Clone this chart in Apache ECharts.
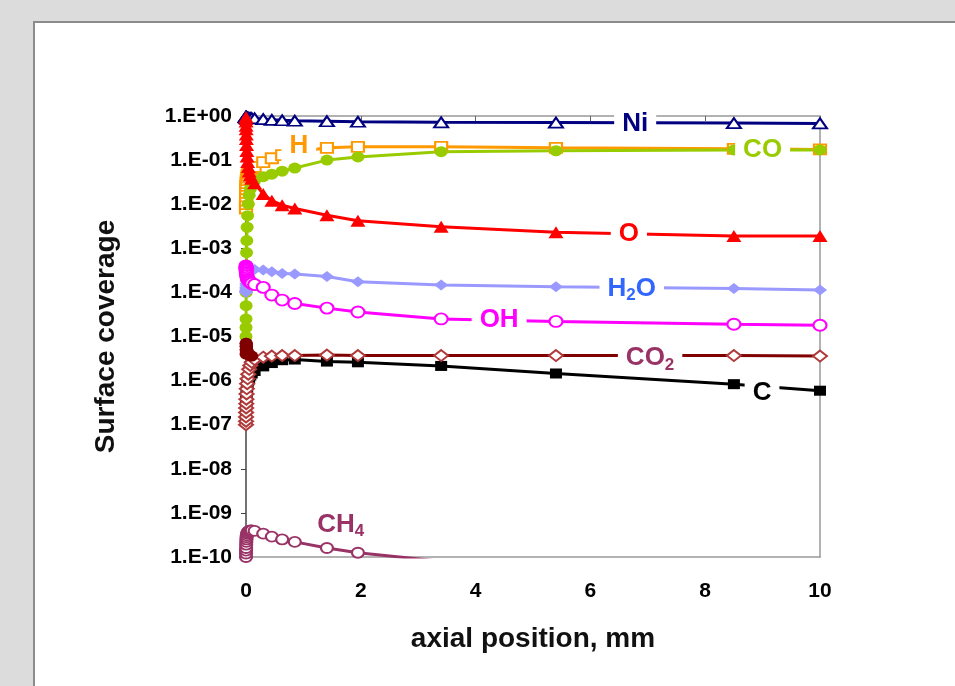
<!DOCTYPE html>
<html>
<head>
<meta charset="utf-8">
<script src="https://cdn.jsdelivr.net/npm/echarts@6/dist/echarts.min.js"></script>
<style>
  html, body { margin: 0; padding: 0; background: #dcdcdc; }
  #panel { position: absolute; left: 33px; top: 21px; width: 1000px; height: 1000px;
           background: #fff; border: 2px solid #8c8c8c; }
  #chart { position: absolute; left: 0; top: 0; width: 955px; height: 686px; }
</style>
</head>
<body>
<div id="panel"></div>
<div id="chart"></div>
<script>
// axial positions (mm), dense near the inlet
var xPos = [0, 0.0005, 0.001, 0.002, 0.003, 0.005, 0.007, 0.01, 0.014, 0.02, 0.028, 0.04, 0.055, 0.075, 0.1,
            0.15, 0.3, 0.45, 0.63, 0.85, 1.41, 1.95, 3.4, 5.4, 8.5, 10];

var ni  = [0.97, 0.96, 0.95, 0.95, 0.94, 0.94, 0.93, 0.93, 0.92, 0.92, 0.91, 0.91, 0.9, 0.9, 0.89,
           0.88, 0.85, 0.82, 0.8, 0.78, 0.76, 0.74, 0.72, 0.71, 0.69, 0.68];
var h   = [0.008, 0.01, 0.012, 0.015, 0.018, 0.022, 0.026, 0.03, 0.035, 0.04, 0.045, 0.05, 0.055, 0.06, 0.065,
           0.07, 0.09, 0.11, 0.13, 0.15, 0.19, 0.2, 0.2, 0.19, 0.18, 0.175];
var co  = [1e-5, 1.6e-5, 2.5e-5, 5e-5, 1e-4, 2e-4, 4e-4, 8e-4, 1.5e-3, 3e-3, 5.5e-3, 1e-2, 1.6e-2, 2.2e-2, 2.8e-2,
           3.4e-2, 4.2e-2, 4.8e-2, 5.6e-2, 6.6e-2, 0.1, 0.118, 0.155, 0.163, 0.17, 0.17];
var o   = [0.95, 0.85, 0.75, 0.6, 0.5, 0.38, 0.3, 0.22, 0.16, 0.12, 0.09, 0.07, 0.055, 0.045, 0.038,
           0.03, 0.017, 0.012, 0.0095, 0.008, 0.0056, 0.0042, 0.0031, 0.0023, 0.0019, 0.0019];
var h2o = [1e-4, 1.05e-4, 1.1e-4, 1.2e-4, 1.3e-4, 1.45e-4, 1.6e-4, 1.8e-4, 2e-4, 2.3e-4, 2.6e-4, 2.9e-4, 3.1e-4, 3.3e-4, 3.4e-4,
           3.3e-4, 3.2e-4, 2.95e-4, 2.7e-4, 2.6e-4, 2.3e-4, 1.75e-4, 1.48e-4, 1.35e-4, 1.23e-4, 1.13e-4];
var oh  = [4e-4, 3.8e-4, 3.6e-4, 3.4e-4, 3.2e-4, 3e-4, 2.8e-4, 2.6e-4, 2.4e-4, 2.2e-4, 2e-4, 1.9e-4, 1.8e-4, 1.7e-4, 1.6e-4,
           1.5e-4, 1.3e-4, 8.7e-5, 6.7e-5, 5.6e-5, 4.4e-5, 3.6e-5, 2.5e-5, 2.2e-5, 1.9e-5, 1.8e-5];
var co2 = [1e-7, 1.2e-7, 1.5e-7, 1.9e-7, 2.4e-7, 3e-7, 3.8e-7, 5e-7, 6.5e-7, 8.5e-7, 1.1e-6, 1.4e-6, 1.8e-6, 2.2e-6, 2.6e-6,
           3e-6, 3.4e-6, 3.6e-6, 3.7e-6, 3.7e-6, 3.8e-6, 3.7e-6, 3.7e-6, 3.7e-6, 3.7e-6, 3.6e-6];
var cooh = [4e-6, 5e-6, 6e-6, 7e-6, 7e-6, 6.5e-6, 6e-6, 5.5e-6, 5e-6, 4.6e-6, 4.3e-6, 4e-6, 3.8e-6, 3.7e-6, 3.6e-6,
           null, null, null, null, null, null, null, null, null, null, null];
var c   = [1.5e-7, 1.7e-7, 2e-7, 2.4e-7, 2.8e-7, 3.3e-7, 4e-7, 4.8e-7, 5.8e-7, 7e-7, 8.5e-7, 1e-6, 1.15e-6, 1.3e-6, 1.45e-6,
           1.65e-6, 2.1e-6, 2.5e-6, 2.9e-6, 3e-6, 2.7e-6, 2.6e-6, 2.15e-6, 1.45e-6, 8.3e-7, 5.9e-7];
var ch4 = [1e-10, 1.2e-10, 1.4e-10, 1.6e-10, 1.9e-10, 2.2e-10, 2.5e-10, 2.8e-10, 3.1e-10, 3.4e-10, 3.6e-10, 3.8e-10, 3.9e-10, 4e-10, 4e-10,
           3.9e-10, 3.4e-10, 2.9e-10, 2.5e-10, 2.2e-10, 1.6e-10, 1.25e-10, 8e-11, 5e-11, 3e-11, 2.5e-11];

var yTickLabels = ['1.E-10', '1.E-09', '1.E-08', '1.E-07', '1.E-06', '1.E-05',
                   '1.E-04', '1.E-03', '1.E-02', '1.E-01', '1.E+00'];

// in-plot species labels: text, x (mm), coverage
var labelTexts = ['{t|Ni}', '{t|H}', '{t|CO}', '{t|O}', '{t|H}{s|2}{t|O}', '{t|OH}', '{t|CO}{s|2}', '{t|C}', '{t|CH}{s|4}'];
var labelX     = [6.78, 0.92, 9.0, 6.67, 6.72, 4.41, 7.04, 8.99, 1.65];
var labelY     = [0.66, 0.21, 0.175, 0.0021, 1.2e-4, 2.4e-5, 3.2e-6, 5.2e-7, 5.3e-10];
var labelColors = ['#000080', '#ff9900', '#99cc00', '#ff0000', '#3366ff', '#ff00ff', '#993366', '#000000', '#993366'];

var font = 'Liberation Sans, Arial, sans-serif';

function pairs(ys) {
  return xPos.map(function (x, i) { return [x, ys[i]]; });
}

function line(name, ys, color, symbol, size, markerColor) {
  return {
    name: name,
    type: 'line',
    data: pairs(ys),
    symbol: symbol,
    symbolSize: size,
    showAllSymbol: true,
    connectNulls: false,
    lineStyle: { color: color, width: 3 },
    itemStyle: { color: markerColor || color, borderWidth: 1.5 },
    emphasis: { disabled: true }
  };
}

var labelData = labelTexts.map(function (t, i) {
  return {
    value: [labelX[i], labelY[i]],
    label: {
      formatter: t,
      rich: {
        t: { color: labelColors[i], fontSize: 26, fontWeight: 'bold', fontFamily: font, lineHeight: 30 },
        s: { color: labelColors[i], fontSize: 17, fontWeight: 'bold', fontFamily: font, lineHeight: 14, verticalAlign: 'bottom' }
      }
    }
  };
});

var chart = echarts.init(document.getElementById('chart'));
chart.setOption({
  animation: false,
  grid: { left: 246, top: 116, right: 135, bottom: 129, containLabel: false },
  xAxis: [{
    type: 'value', min: 0, max: 10, interval: 2,
    name: 'axial position, mm', nameLocation: 'middle', nameGap: 68,
    nameTextStyle: { fontSize: 28, fontWeight: 'bold', fontFamily: font, color: '#111' },
    axisLine: { lineStyle: { color: '#999', width: 1.5 } },
    axisTick: { show: false },
    splitLine: { show: false },
    axisLabel: { fontSize: 21, fontWeight: 'bold', fontFamily: font, color: '#000', margin: 24 }
  }, {
    type: 'value', min: 0, max: 10, interval: 2, position: 'top',
    axisLine: { onZero: false, lineStyle: { color: '#999', width: 1.5 } },
    axisTick: { show: true, inside: true, length: 5, lineStyle: { color: '#666' } },
    axisLabel: { show: false },
    splitLine: { show: false }
  }],
  yAxis: [{
    type: 'log', logBase: 10, min: 1e-10, max: 1, interval: 1, splitNumber: 10,
    name: 'Surface coverage', nameLocation: 'middle', nameGap: 126, nameRotate: 90,
    nameTextStyle: { fontSize: 28, fontWeight: 'bold', fontFamily: font, color: '#111' },
    axisLine: { show: true, lineStyle: { color: '#444', width: 1.5 } },
    axisTick: { show: true, inside: false, length: 5, lineStyle: { color: '#444' } },
    minorTick: { show: false },
    splitLine: { show: false },
    axisLabel: {
      fontSize: 21, fontWeight: 'bold', fontFamily: font, color: '#000', margin: 14,
      formatter: function (v) { return yTickLabels[Math.round(Math.log10(v)) + 10]; }
    }
  }, {
    type: 'log', logBase: 10, min: 1e-10, max: 1, position: 'right',
    axisLine: { show: true, onZero: false, lineStyle: { color: '#999', width: 1.5 } },
    axisTick: { show: false },
    axisLabel: { show: false },
    splitLine: { show: false }
  }],
  series: [
    line('Ni', ni, '#000080', 'emptyTriangle', [14, 10]),
    line('H', h, '#ff9900', 'emptyRect', [12, 10]),
    line('CO', co, '#99cc00', 'circle', [13, 11]),
    line('H2O', h2o, '#9999ff', 'diamond', [14, 11]),
    line('OH', oh, '#ff00ff', 'emptyCircle', [13, 11]),
    line('C', c, '#000000', 'rect', [12, 10]),
    line('CO2', co2, '#800000', 'emptyDiamond', [14, 11], '#b03a3a'),
    line('COOH', cooh, '#800000', 'circle', [13, 11]),
    line('CH4', ch4, '#993366', 'emptyCircle', [12, 10]),
    line('O', o, '#ff0000', 'triangle', [15, 12]),
    {
      name: 'labels',
      type: 'scatter',
      z: 20,
      silent: true,
      symbolSize: 0,
      itemStyle: { opacity: 1 },
      data: labelData,
      label: {
        show: true, position: 'inside', opacity: 1,
        backgroundColor: '#fff', padding: [0, 8]
      }
    }
  ]
});
</script>
</body>
</html>
